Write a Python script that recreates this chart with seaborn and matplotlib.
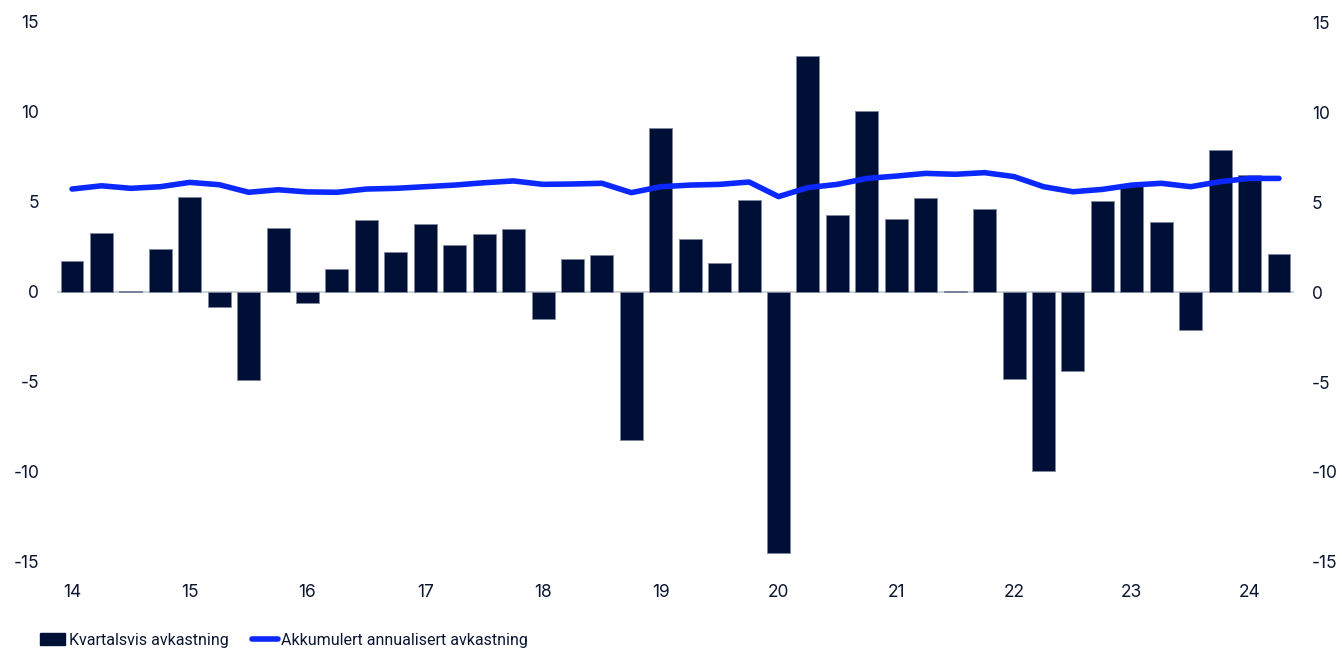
import numpy as np
import pandas as pd
import matplotlib
matplotlib.use("Agg")
import matplotlib.pyplot as plt
import seaborn as sns
from matplotlib.patches import Patch
from matplotlib.lines import Line2D

# Quarterly data 2014Q1 - 2024Q2
quarters = [f"{y}Q{q}" for y in range(2014, 2025) for q in range(1, 5)][:42]
kvartalsvis = [1.7, 3.3, 0.05, 2.4, 5.3, -0.85, -4.9, 3.55, -0.6, 1.3, 4.0, 2.2,
               3.8, 2.6, 3.2, 3.5, -1.5, 1.85, 2.05, -8.2, 9.1, 2.95, 1.6, 5.1,
               -14.5, 13.1, 4.3, 10.05, 4.05, 5.2, 0.03, 4.6, -4.85, -9.95, -4.4, 5.05,
               5.9, 3.9, -2.1, 7.9, 6.5, 2.1]
akkumulert = [5.72, 5.9, 5.76, 5.85, 6.09, 5.96, 5.54, 5.68, 5.56, 5.54, 5.72, 5.76,
              5.85, 5.94, 6.07, 6.17, 5.98, 6.0, 6.04, 5.52, 5.85, 5.94, 5.98, 6.11,
              5.3, 5.8, 5.98, 6.31, 6.44, 6.59, 6.54, 6.63, 6.41, 5.85, 5.57, 5.7,
              5.94, 6.04, 5.85, 6.13, 6.31, 6.31]
year_labels = [str(y) for y in range(14, 25)]
y_ticks = [-15, -10, -5, 0, 5, 10, 15]

bar_color = "#000F35"
line_color = "#0A28FF"
text_color = "#0b1530"

sns.set_theme(style="white")
plt.rcParams["font.family"] = ["Inter", "DejaVu Sans"]
plt.rcParams["axes.unicode_minus"] = False

df = pd.DataFrame({"idx": np.arange(len(quarters)), "kv": kvartalsvis, "ak": akkumulert})

fig = plt.figure(figsize=(13.42, 6.48), dpi=100)
ax = fig.add_axes([57.3 / 1342, (648 - 562) / 648, 1236.4 / 1342, 540 / 648])

ax.axhline(0, color="#cfd2d8", lw=1.5, zorder=0)
sns.barplot(data=df, x="idx", y="kv", color=bar_color, width=0.78, ax=ax,
            edgecolor="#7d869c", linewidth=0.6, saturation=1, zorder=2)
sns.lineplot(data=df, x="idx", y="ak", color=line_color, lw=4, ax=ax,
             zorder=3, solid_capstyle="round")

ax.set_xlim(-0.5, 41.5)
ax.set_ylim(-15, 15)
ax.set_xticks(np.arange(0, 41, 4))
ax.set_xticklabels(year_labels)
ax.set_yticks(y_ticks)
ax.set_yticklabels([str(v) for v in y_ticks])
ax.set_xlabel("")
ax.set_ylabel("")
for s in ax.spines.values():
    s.set_visible(False)
ax.tick_params(axis="both", length=0, labelsize=12.5, colors=text_color)
ax.tick_params(axis="x", pad=16)
ax.tick_params(axis="y", pad=13)

ax2 = ax.twinx()
ax2.set_ylim(-15, 15)
ax2.set_yticks(y_ticks)
ax2.set_yticklabels([str(v) for v in y_ticks])
for s in ax2.spines.values():
    s.set_visible(False)
ax2.tick_params(axis="y", length=0, labelsize=12.5, colors=text_color, pad=13)
ax2.grid(False)
ax.grid(False)

handles = [Patch(facecolor=bar_color, edgecolor=bar_color),
           Line2D([0], [0], color=line_color, lw=4, solid_capstyle="round")]
labels = ["Kvartalsvis avkastning", "Akkumulert annualisert avkastning"]
fig.legend(handles, labels, loc="lower left", bbox_to_anchor=(0.019, -0.022),
           ncol=2, frameon=False, prop={"family": ["Roboto", "DejaVu Sans"], "size": 11.5},
           handlelength=1.6, handleheight=0.8, handletextpad=0.2, columnspacing=1.5,
           labelcolor=text_color)

fig.savefig("out.png", dpi=100)
